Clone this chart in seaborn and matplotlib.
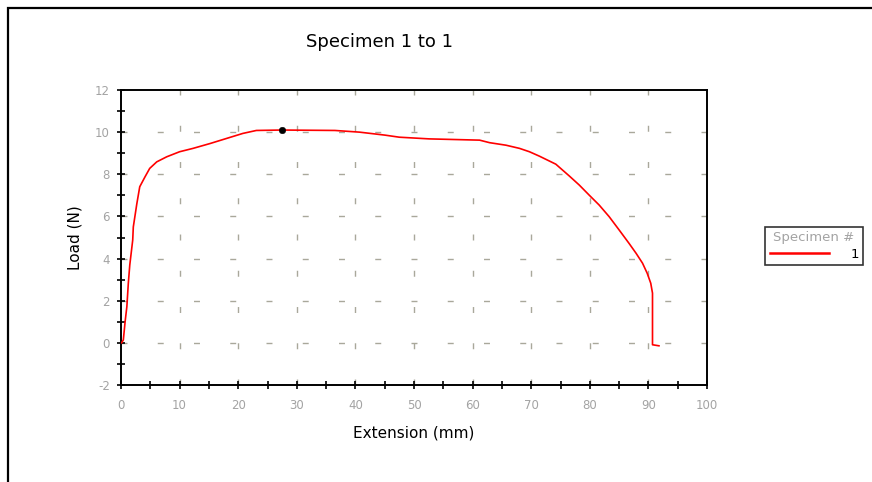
import matplotlib
matplotlib.use("Agg")
import matplotlib.pyplot as plt
import seaborn as sns
import pandas as pd
from matplotlib.patches import Rectangle
from matplotlib.ticker import MultipleLocator

plt.rcParams["axes.unicode_minus"] = False

# ---- data ----
extension_mm = [0.0, 0.1, 0.4, 0.7, 1.0, 1.25, 1.5, 2.0, 2.1, 2.7, 3.2, 4.1, 4.9, 6.1, 7.8,
                10.0, 12.3, 15.2, 18.0, 20.8, 23.1, 27.4, 36.5, 40.7, 45.0, 47.5, 52.6,
                61.2, 62.9, 65.7, 68.0, 69.7, 71.4, 74.2, 76.5, 78.2, 79.9,
                81.6, 83.3, 85.0, 86.7, 87.9, 89.0, 89.8, 90.4, 90.7, 90.7, 91.8]
load_n = [0.0, 0.0, 0.14, 1.0, 1.72, 2.83, 3.7, 4.88, 5.5, 6.6, 7.41, 7.88, 8.28, 8.59, 8.83,
          9.07, 9.23, 9.46, 9.70, 9.94, 10.08, 10.1, 10.08, 10.0, 9.86, 9.76, 9.68,
          9.62, 9.50, 9.38, 9.23, 9.07, 8.86, 8.48, 7.92, 7.49, 7.01,
          6.54, 5.99, 5.36, 4.72, 4.25, 3.78, 3.30, 2.83, 2.36, -0.09, -0.14]
peak_extension = [27.4]
peak_load = [10.1]

title = "Specimen 1 to 1"
x_label = "Extension (mm)"
y_label = "Load (N)"
legend_title = "Specimen #"
specimen_labels = ["1"]

df = pd.DataFrame({"Extension": extension_mm, "Load": load_n,
                   "Specimen": specimen_labels[0]})
peak = pd.DataFrame({"Extension": peak_extension, "Load": peak_load})

fig = plt.figure(figsize=(8.72, 4.82), dpi=100)
ax = fig.add_axes([121 / 872, 1 - 385 / 482, (707 - 121) / 872, (385 - 90) / 482])

grid_color = "#a9a89b"
dash = (0, (4.3, 21.8))
for xv in range(10, 100, 10):
    ax.axvline(xv, color=grid_color, lw=1.0, linestyle=dash, zorder=0)
for yv in range(0, 12, 2):
    ax.axhline(yv, color=grid_color, lw=1.0, linestyle=dash, zorder=0)

sns.lineplot(data=df, x="Extension", y="Load", hue="Specimen", sort=False,
             palette=["#ff0000"], linewidth=1.2, ax=ax, estimator=None, zorder=3)
sns.scatterplot(data=peak, x="Extension", y="Load", color="black", s=22,
                ax=ax, zorder=4, edgecolor="black", legend=False)

ax.set_xlim(0, 100)
ax.set_ylim(-2, 12)
ax.xaxis.set_major_locator(MultipleLocator(10))
ax.xaxis.set_minor_locator(MultipleLocator(5))
ax.yaxis.set_major_locator(MultipleLocator(2))
ax.yaxis.set_minor_locator(MultipleLocator(1))
ax.tick_params(which="both", direction="inout", length=6, width=1.2,
               color="black", labelcolor="#a3a3a3", labelsize=8.5)
ax.tick_params(axis="x", pad=7)
ax.tick_params(axis="y", pad=5)
for s in ax.spines.values():
    s.set_linewidth(1.4)
    s.set_color("black")

ax.set_xlabel(x_label, fontsize=11, labelpad=10)
ax.set_ylabel(y_label, fontsize=11, labelpad=9)

fig.text(379 / 872, 1 - 42 / 482, title, ha="center", va="center", fontsize=13)

leg = ax.legend(title=legend_title, loc="center left",
                bbox_to_anchor=(765 / 872, 1 - 246 / 482),
                bbox_transform=fig.transFigure, frameon=True, fancybox=False,
                fontsize=9.5, title_fontsize=9.5, handlelength=4.5,
                borderpad=0.35, labelspacing=0.25, handletextpad=1.6,
                borderaxespad=0)
leg.get_frame().set_edgecolor("black")
leg.get_frame().set_linewidth(1.2)
leg.get_title().set_color("#a3a3a3")
for h in leg.get_lines():
    h.set_linewidth(1.8)

fig.patches.append(Rectangle((8 / 872, -0.1), 1.2, 1 - 8 / 482 + 0.1,
                             transform=fig.transFigure, fill=False,
                             edgecolor="black", linewidth=1.6))

fig.savefig("out.png", dpi=100)
